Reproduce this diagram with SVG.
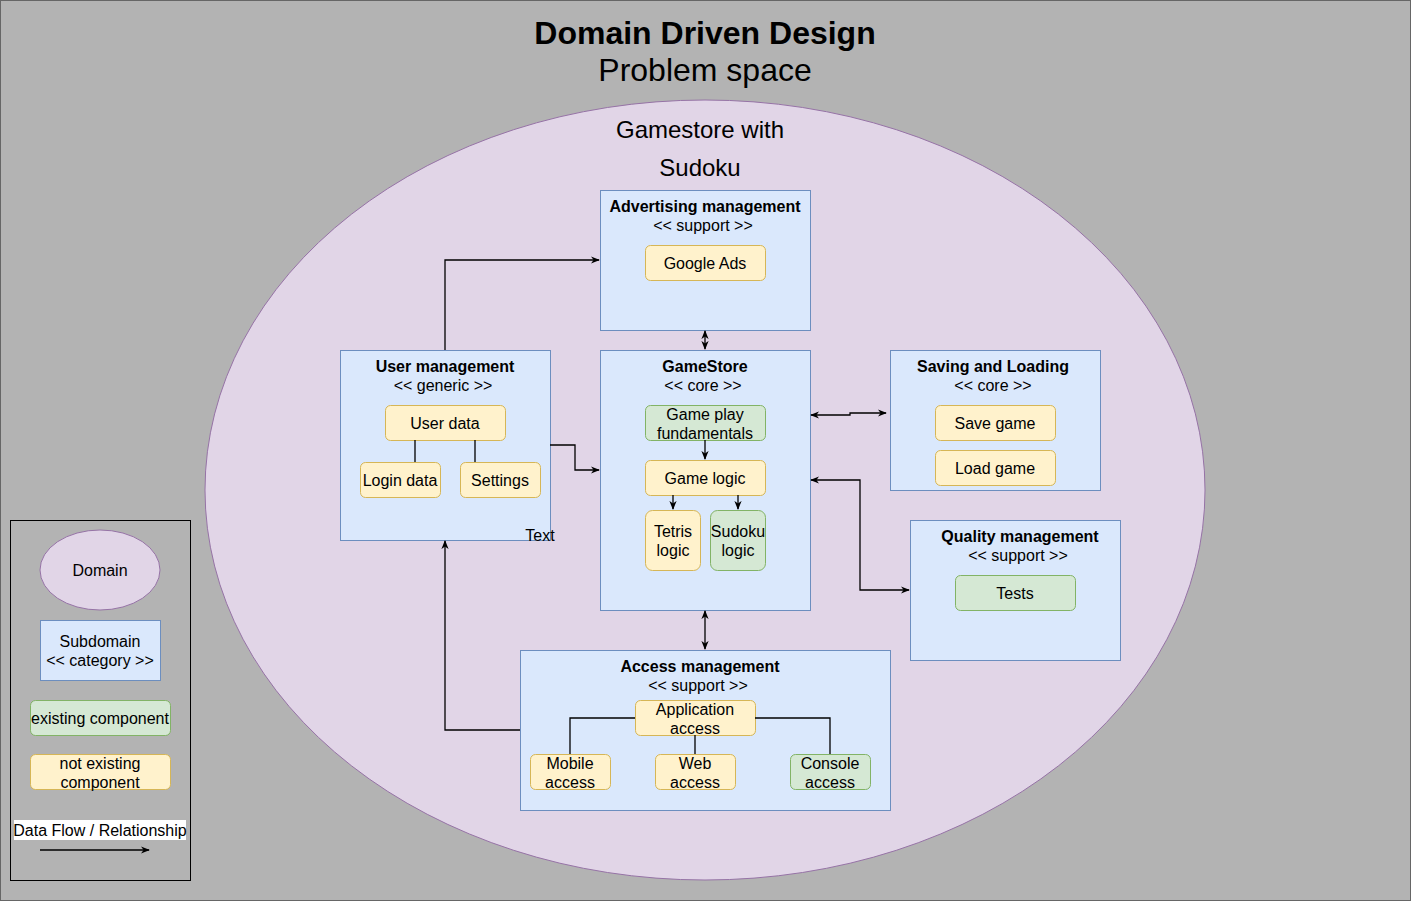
<svg xmlns="http://www.w3.org/2000/svg" width="1411" height="902" viewBox="0 0 1411 902">
<defs>
<style>
text{font-family:"Liberation Sans",Arial,sans-serif;fill:#000;}
.t{font-size:16px;text-anchor:middle;}
.b{font-weight:bold;}
.sub{fill:#dae8fc;stroke:#6c8ebf;stroke-width:1;}
.ne{fill:#fff2cc;stroke:#d6b656;stroke-width:1;}
.ex{fill:#d5e8d4;stroke:#82b366;stroke-width:1;}
.c{fill:none;stroke:#000;stroke-width:1.3;}
</style>
<marker id="ah" viewBox="0 0 10 10" refX="9" refY="5" markerWidth="9" markerHeight="9" orient="auto-start-reverse" markerUnits="userSpaceOnUse">
<path d="M0,1 L10,5 L0,9 L3,5 Z" fill="#000"/>
</marker>
</defs>
<rect x="0.5" y="0.5" width="1410" height="900" fill="#b3b3b3" stroke="#666"/>
<g id="title">
<text x="705" y="44" class="t b" style="font-size:32px">Domain Driven Design</text>
<text x="705" y="81" class="t" style="font-size:32px">Problem space</text>
</g>
<g id="domain">
<ellipse cx="705" cy="490" rx="500" ry="390" fill="#e1d5e7" stroke="#9673a6"/>
<text x="700" y="138" class="t" style="font-size:24px">Gamestore with</text>
<text x="700" y="176" class="t" style="font-size:24px">Sudoku</text>
</g>
<g id="advertising">
<rect class="sub" x="600.5" y="190.5" width="210" height="140"/>
<text x="705" y="212" class="t b">Advertising management</text>
<text x="703" y="231" class="t">&lt;&lt; support &gt;&gt;</text>
<rect class="ne" x="645.5" y="245.5" width="120" height="35" rx="5"/>
<text x="705" y="269" class="t">Google Ads</text>
</g>
<g id="user-management">
<rect class="sub" x="340.5" y="350.5" width="210" height="190"/>
<text x="445" y="372" class="t b">User management</text>
<text x="443" y="391" class="t">&lt;&lt; generic &gt;&gt;</text>
<rect class="ne" x="385.5" y="405.5" width="120" height="35" rx="5"/>
<text x="445" y="429" class="t">User data</text>
<rect class="ne" x="360.5" y="462.5" width="80" height="35" rx="5"/>
<text x="400" y="486" class="t">Login data</text>
<rect class="ne" x="460.5" y="462.5" width="80" height="35" rx="5"/>
<text x="500" y="486" class="t">Settings</text>
<text x="540" y="541" class="t">Text</text>
</g>
<g id="gamestore">
<rect class="sub" x="600.5" y="350.5" width="210" height="260"/>
<text x="705" y="372" class="t b">GameStore</text>
<text x="703" y="391" class="t">&lt;&lt; core &gt;&gt;</text>
<rect class="ex" x="645.5" y="405.5" width="120" height="35" rx="5"/>
<text x="705" y="420" class="t">Game play</text>
<text x="705" y="439" class="t">fundamentals</text>
<rect class="ne" x="645.5" y="460.5" width="120" height="35" rx="5"/>
<text x="705" y="484" class="t">Game logic</text>
<rect class="ne" x="645.5" y="510.5" width="55" height="60" rx="7"/>
<text x="673" y="537" class="t">Tetris</text>
<text x="673" y="556" class="t">logic</text>
<rect class="ex" x="710.5" y="510.5" width="55" height="60" rx="7"/>
<text x="738" y="537" class="t">Sudoku</text>
<text x="738" y="556" class="t">logic</text>
</g>
<g id="saving-loading">
<rect class="sub" x="890.5" y="350.5" width="210" height="140"/>
<text x="993" y="372" class="t b">Saving and Loading</text>
<text x="993" y="391" class="t">&lt;&lt; core &gt;&gt;</text>
<rect class="ne" x="935.5" y="405.5" width="120" height="35" rx="5"/>
<text x="995" y="429" class="t">Save game</text>
<rect class="ne" x="935.5" y="450.5" width="120" height="35" rx="5"/>
<text x="995" y="474" class="t">Load game</text>
</g>
<g id="quality">
<rect class="sub" x="910.5" y="520.5" width="210" height="140"/>
<text x="1020" y="542" class="t b">Quality management</text>
<text x="1018" y="561" class="t">&lt;&lt; support &gt;&gt;</text>
<rect class="ex" x="955.5" y="575.5" width="120" height="35" rx="5"/>
<text x="1015" y="599" class="t">Tests</text>
</g>
<g id="access">
<rect class="sub" x="520.5" y="650.5" width="370" height="160"/>
<text x="700" y="672" class="t b">Access management</text>
<text x="698" y="691" class="t">&lt;&lt; support &gt;&gt;</text>
<rect class="ne" x="635.5" y="700.5" width="120" height="35" rx="5"/>
<text x="695" y="715" class="t">Application</text>
<text x="695" y="734" class="t">access</text>
<rect class="ne" x="530.5" y="754.5" width="80" height="35" rx="5"/>
<text x="570" y="769" class="t">Mobile</text>
<text x="570" y="788" class="t">access</text>
<rect class="ne" x="655.5" y="754.5" width="80" height="35" rx="5"/>
<text x="695" y="769" class="t">Web</text>
<text x="695" y="788" class="t">access</text>
<rect class="ex" x="790.5" y="754.5" width="80" height="35" rx="5"/>
<text x="830" y="769" class="t">Console</text>
<text x="830" y="788" class="t">access</text>
</g>
<g id="legend">
<rect x="10.5" y="520.5" width="180" height="360" fill="none" stroke="#000"/>
<ellipse cx="100" cy="570" rx="60" ry="40" fill="#e1d5e7" stroke="#9673a6"/>
<text x="100" y="576" class="t">Domain</text>
<rect class="sub" x="40.5" y="620.5" width="120" height="60"/>
<text x="100" y="647" class="t">Subdomain</text>
<text x="100" y="666" class="t">&lt;&lt; category &gt;&gt;</text>
<rect class="ex" x="30.5" y="700.5" width="140" height="35" rx="5"/>
<text x="100" y="724" class="t">existing component</text>
<rect class="ne" x="30.5" y="754.5" width="140" height="35" rx="5"/>
<text x="100" y="769" class="t">not existing</text>
<text x="100" y="788" class="t">component</text>
<rect x="14" y="820" width="172" height="20" fill="#fff"/>
<text x="100" y="836" class="t">Data Flow / Relationship</text>
<path class="c" d="M40,850 H149" marker-end="url(#ah)"/>
</g>
<g id="connectors">
<path class="c" d="M445,350 V260 H599" marker-end="url(#ah)"/>
<path class="c" d="M550,445 H575 V470 H599" marker-end="url(#ah)"/>
<path class="c" d="M705,331 V349" marker-start="url(#ah)" marker-end="url(#ah)"/>
<path class="c" d="M811,415 H850 V413 H886" marker-start="url(#ah)" marker-end="url(#ah)"/>
<path class="c" d="M811,480 H860 V590 H909" marker-start="url(#ah)" marker-end="url(#ah)"/>
<path class="c" d="M705,611 V649" marker-start="url(#ah)" marker-end="url(#ah)"/>
<path class="c" d="M520,730 H445 V541" marker-end="url(#ah)"/>
<path class="c" d="M415,440 V462 M475,440 V462"/>
<path class="c" d="M705,440 V459" marker-end="url(#ah)"/>
<path class="c" d="M673,495 V509" marker-end="url(#ah)"/>
<path class="c" d="M738,495 V509" marker-end="url(#ah)"/>
<path class="c" d="M635,718 H570 V754 M755,718 H830 V754 M695,735 V754"/>
</g>
</svg>
